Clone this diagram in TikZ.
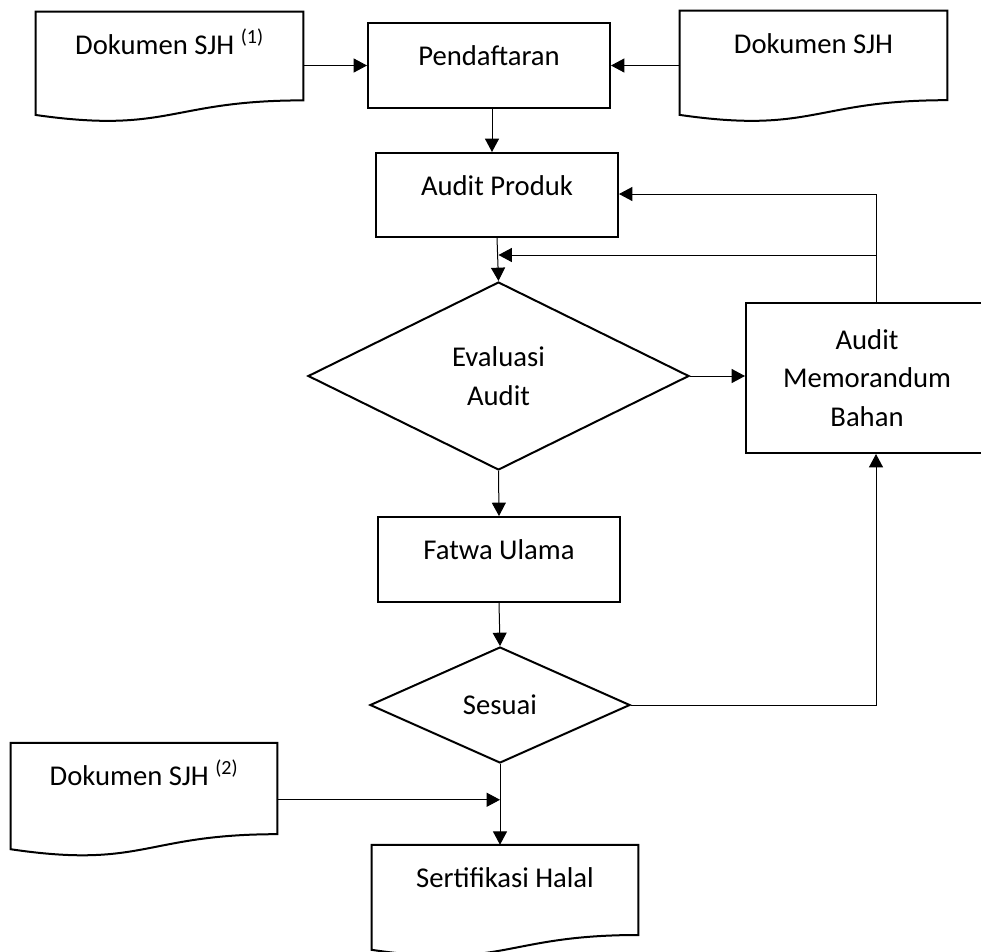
\documentclass[tikz,border=0pt]{standalone}
\usepackage{fontspec}
\setmainfont{Carlito}
\usetikzlibrary{shapes.geometric,arrows.meta,calc}

\begin{document}
\begin{tikzpicture}[
        x=0.75pt, y=-0.75pt,
        font=\fontsize{21.5}{29}\selectfont,
        boxNode/.style={rectangle, draw, line width=1.5pt, inner sep=0pt, minimum width=181.5pt, text height=31.5pt, align=center},
        docNode/.style={rectangle, inner sep=0pt, text height=31.5pt, align=center},
        decisionNode/.style={diamond, draw, line width=1.5pt, inner sep=0pt, align=center},
        flow/.style={-{Triangle[length=10pt,width=10.5pt]}, line width=0.75pt}
    ]
        \useasboundingbox (0,0) rectangle (981,951);

        % Documents
        \node[docNode, minimum width=200.25pt, text depth=51pt] (doc1) at (169.5,67) {Dokumen SJH \textsuperscript{(1)}};
        \node[docNode, minimum width=200.25pt, text depth=51.75pt] (doc2) at (813.5,66.5) {Dokumen SJH};
        \node[docNode, minimum width=199.5pt, text depth=53.6pt] (doc3) at (144,799.75) {Dokumen SJH \textsuperscript{(2)}};
        \node[docNode, minimum width=199.5pt, text depth=52.5pt] (sert) at (505,901) {Sertifikasi Halal};

        % Process boxes
        \node[boxNode, text depth=32.25pt] (pend) at (489,65.5) {Pendaftaran};
        \node[boxNode, text depth=31.5pt] (prod) at (497,195) {Audit Produk};
        \node[boxNode, text depth=32.25pt] (fatwa) at (499,559.5) {Fatwa Ulama};
        \node[boxNode, text height=, text depth=, minimum height=112.5pt] (memo) at (867,378) {Audit\\Memorandum\\Bahan};

        % Decisions
        \node[decisionNode, minimum width=285.75pt, minimum height=141pt] (eval) at (498.5,376) {Evaluasi\\Audit};
        \node[decisionNode, minimum width=195pt, minimum height=87pt] (sesuai) at (500,705) {Sesuai};

        % Wavy outline of the document shapes
        \foreach \d in {doc1,doc2,doc3,sert}
            \draw[line width=1.5pt] (\d.north west) -- (\d.north east)
                -- ($(\d.north east)!0.802!(\d.south east)$)
                .. controls ($(\d.north)!0.802!(\d.south)$) and ($(\d.north)!1.107!(\d.south)$)
                .. ($(\d.north west)!0.934!(\d.south west)$) -- cycle;

        % Feedback corners
        \coordinate (fbTop) at (876,194);
        \coordinate (fbMid) at (876,255);

        % Edges
        \draw[flow] (doc1.east |- pend) -- (pend.west);
        \draw[flow] (doc2.west |- pend) -- (pend.east);
        \draw[flow] ([xshift=2.25pt]pend.south) -- ([xshift=2.25pt]pend.south |- prod.north);
        \draw[line width=0.75pt] (memo.north -| fbTop) -- (fbTop);
        \draw[flow] (fbTop) -- (fbTop -| prod.east);
        \draw[flow] (fbMid) -- (fbMid -| eval.north);
        \draw[flow] (prod.south) -- (eval.north);
        \draw[flow] (eval.east) -- (eval.east -| memo.west);
        \draw[flow] (eval.south) -- (fatwa.north);
        \draw[flow] (fatwa.south) -- (sesuai.north);
        \draw[flow] (sesuai.east) -| (memo.south -| fbTop);
        \draw[flow] (sesuai.south) -- (sesuai.south |- sert.north);
        \draw[flow] (doc3.east) -- (doc3.east -| sesuai.south);
    \end{tikzpicture}
\end{document}
